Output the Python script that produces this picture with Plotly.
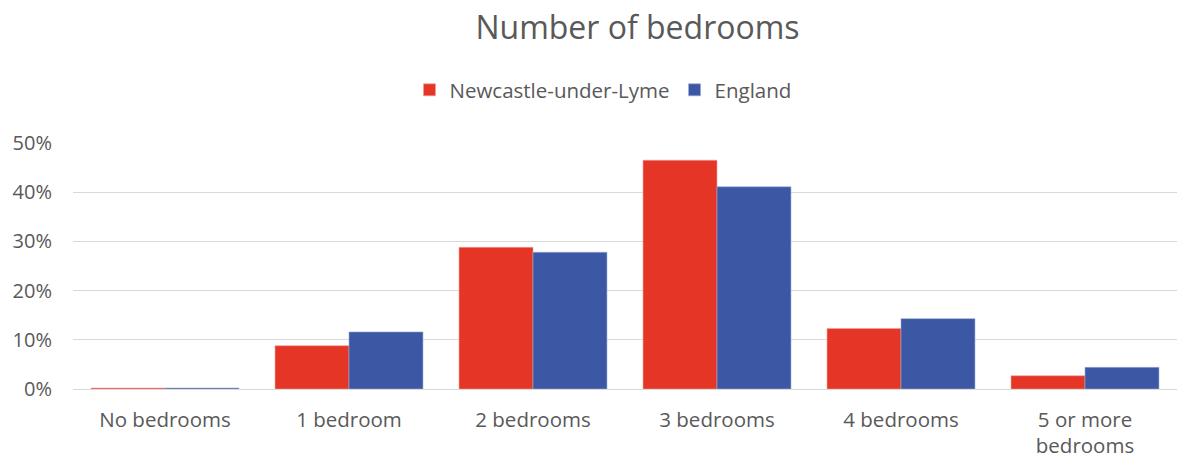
import plotly.graph_objects as go

categories = ["No bedrooms", "1 bedroom", "2 bedrooms", "3 bedrooms", "4 bedrooms", "5 or more<br>bedrooms"]
newcastle = [0.002, 0.088, 0.288, 0.465, 0.123, 0.027]
england = [0.002, 0.116, 0.278, 0.411, 0.143, 0.044]
tick_vals = [0, 0.1, 0.2, 0.3, 0.4, 0.5]

FONT = "Open Sans"
GREY = "#595959"
W, H = 1178, 462

fig = go.Figure()
fig.add_trace(go.Bar(name="Newcastle-under-Lyme", x=categories, y=newcastle,
                     marker=dict(color="#E43526", line=dict(color="#F2A09A", width=0.6))))
fig.add_trace(go.Bar(name="England", x=categories, y=england,
                     marker=dict(color="#3C57A3", line=dict(color="#9AAAD6", width=0.6))))

fig.update_layout(
    width=W, height=H,
    margin=dict(l=73, r=1, t=143, b=73),
    paper_bgcolor="white", plot_bgcolor="white",
    barmode="group", bargap=0.196, bargroupgap=0,
    font=dict(family=FONT, color=GREY, size=20),
    title=dict(text="Number of bedrooms", x=637.5 / W, xanchor="center", xref="container",
               y=1 - 28 / H, yanchor="middle", yref="container",
               font=dict(family=FONT, size=32, color=GREY)),
    legend=dict(orientation="h", x=603 / W, xanchor="center", xref="container",
                y=1 - 90 / H, yanchor="middle", yref="container",
                font=dict(size=20.5, color=GREY), itemwidth=30, traceorder="normal"),
    xaxis=dict(showgrid=False, showline=False, ticks="", ticklabelstandoff=16,
               tickfont=dict(size=20.5, color=GREY)),
    yaxis=dict(range=[0, 0.5], tickvals=tick_vals, tickformat=".0%",
               showgrid=True, gridcolor="#D9D9D9", gridwidth=1,
               zeroline=True, zerolinecolor="#D9D9D9", zerolinewidth=1,
               showline=False, ticks="", ticklabelstandoff=20,
               tickfont=dict(size=20, color=GREY)),
)

fig.write_html("out.html",
               config={"displayModeBar": False},
               post_script="document.body.style.margin='0';document.body.style.padding='0';")
